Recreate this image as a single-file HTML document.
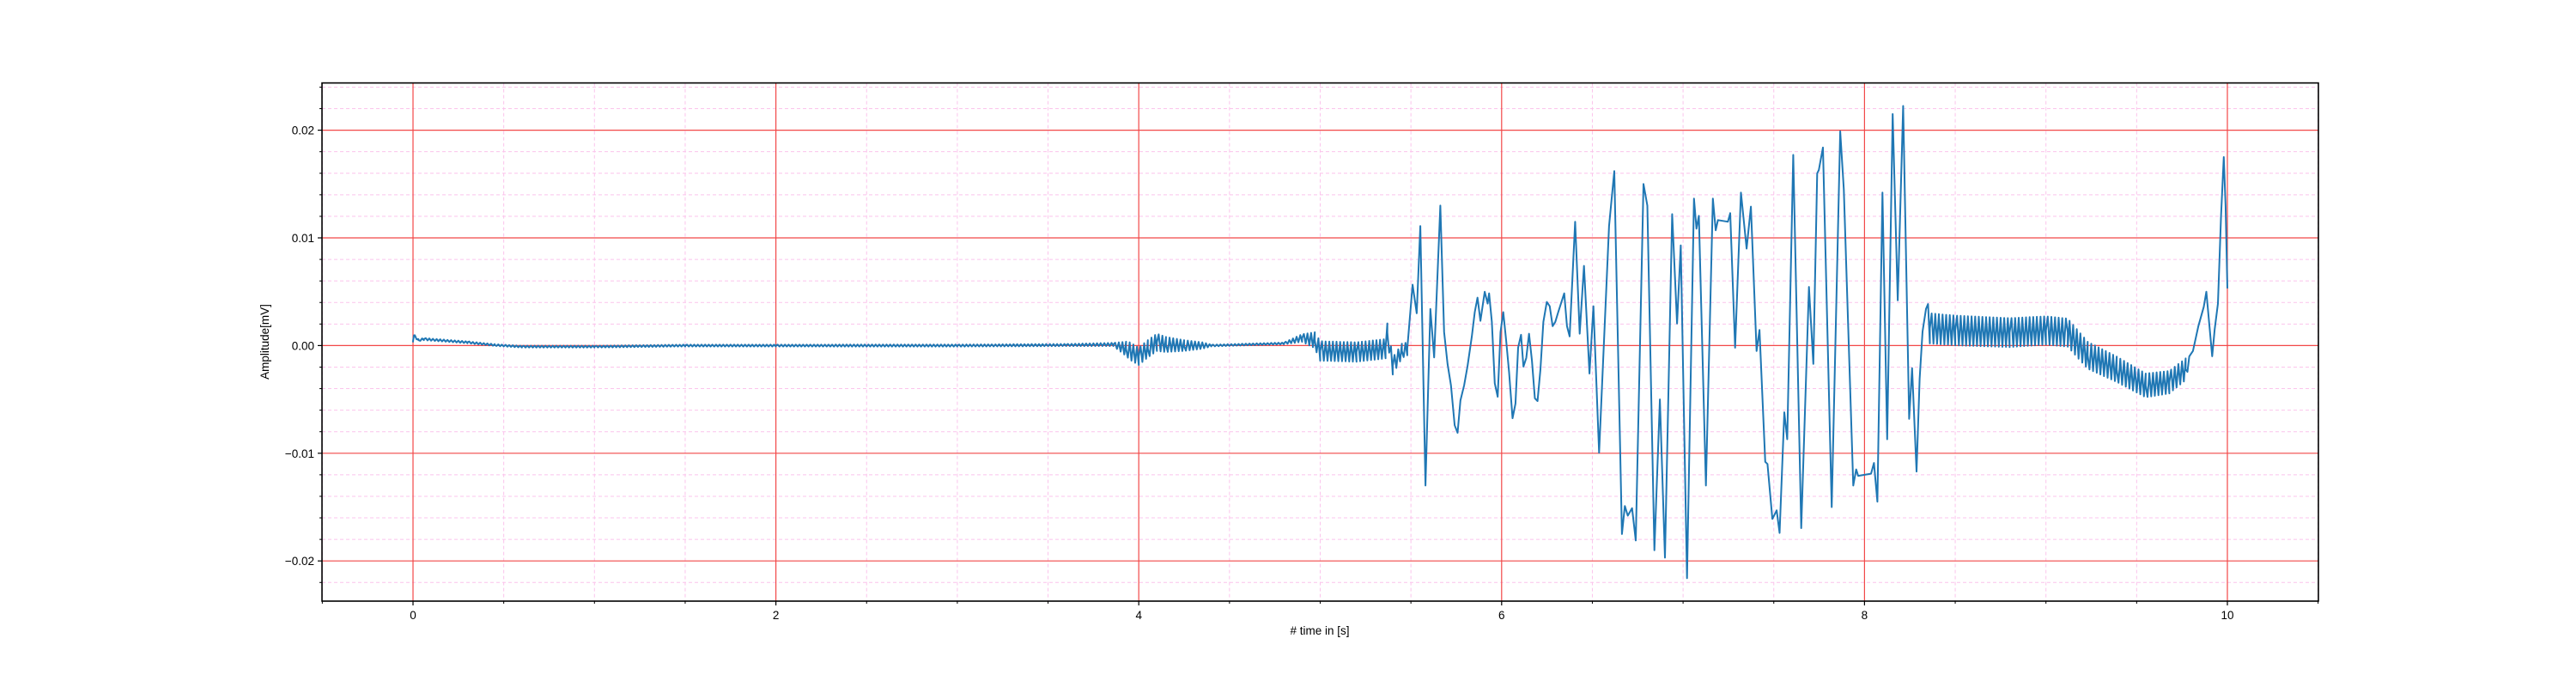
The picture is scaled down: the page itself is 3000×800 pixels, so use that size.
<!DOCTYPE html>
<html><head><meta charset="utf-8"><title>Amplitude chart</title>
<style>
html,body{margin:0;padding:0;background:#fff;}
svg{display:block;font-family:"Liberation Sans","DejaVu Sans",sans-serif;}
</style></head>
<body>
<svg id="chart" width="3000" height="800" viewBox="0 0 3000 800" xmlns="http://www.w3.org/2000/svg">
<rect x="0" y="0" width="3000" height="800" fill="#fff"/>
<g id="grid-minor"></g>
<g id="grid-major"></g>
<g id="series"></g>
<rect x="375" y="96.6" width="2325" height="603.4" fill="none" stroke="#000" stroke-width="1.6"/>
<g id="ticks"></g>
<text x="1537" y="739" font-size="13.5" text-anchor="middle"># time in [s]</text>
<text x="0" y="0" font-size="13.5" text-anchor="middle" transform="translate(313,398) rotate(-90)">Amplitude[mV]</text>
</svg>
<script>
// ---- data (values in mV) ----
const trendTimes = [0,0.005,0.03,0.06,0.3,0.45,0.6,1.0,1.5,2.0,3.0,3.6,3.86,3.93,4.0,4.05,4.1,4.15,4.25,4.4,4.8,4.9,4.97,5.0,5.2,5.36,5.37,5.4,5.45,5.48,
5.509,5.532,5.552,5.580,5.607,5.628,5.662,5.683,5.702,5.721,5.741,5.757,5.773,5.793,5.812,5.836,5.852,5.867,5.883,5.907,5.923,5.931,5.946,5.962,5.978,5.994,
6.009,6.025,6.041,6.060,6.076,6.091,6.107,6.120,6.136,6.151,6.167,6.183,6.198,6.214,6.230,6.249,6.265,6.281,6.296,6.312,6.330,6.345,6.360,6.375,6.405,6.430,6.454,6.484,6.506,6.537,6.592,6.621,
6.663,6.679,6.695,6.719,6.739,6.782,6.803,6.842,6.872,6.900,6.940,6.967,6.987,7.022,7.060,7.074,7.087,7.126,7.164,7.180,7.192,7.247,7.260,
7.287,7.319,7.350,7.374,7.405,7.421,7.453,7.465,7.492,7.516,7.532,7.558,7.574,7.607,7.651,7.694,7.718,7.739,7.748,7.771,7.819,7.866,7.886,7.938,7.954,7.965,
8.036,8.052,8.071,8.099,8.125,8.155,8.183,8.213,8.246,8.262,8.287,8.304,8.320,8.339,8.36,8.5,8.8,9.0,9.12,9.23,9.39,9.55,9.68,9.77,9.81,9.84,9.87,9.884,9.9,9.916,9.93,9.948,9.965,9.98,9.99,10.0];
const trendValues = [0.0004,0.00095,0.0005,0.0006,0.0003,0.00005,-0.0001,-0.0001,0,0,0,0.00005,0.0001,-0.0003,-0.001,-0.0003,0.0003,0.0001,0,0,0.0002,0.0007,0.0005,-0.0005,-0.0006,-0.0003,0.0012,-0.0019,-0.0005,-0.0003,
0.00565,0.003,0.0111,-0.013,0.0034,-0.0011,0.013,0.00125,-0.0017,-0.0037,-0.0074,-0.0081,-0.0051,-0.0037,-0.0019,0.00085,0.0031,0.00445,0.0023,0.005,0.0039,0.00485,0.0022,-0.0035,-0.00475,0.00125,
0.0031,0.00045,-0.0025,-0.00675,-0.0054,-0.0002,0.001,-0.00195,-0.00115,0.0011,-0.0014,-0.0049,-0.00515,-0.0022,0.0022,0.00405,0.00365,0.0018,0.0022,0.0031,0.00405,0.00485,0.0018,0.00085,0.0115,0.0011,0.0074,-0.0026,0.00365,-0.00995,0.0111,0.0162,
-0.0175,-0.0149,-0.0158,-0.0151,-0.0181,0.015,0.013,-0.019,-0.005,-0.0197,0.0122,0.00205,0.0093,-0.0216,0.01365,0.01085,0.01205,-0.013,0.01365,0.0107,0.01165,0.0115,0.0123,
-0.0002,0.0142,0.009,0.0129,-0.0005,0.00145,-0.0108,-0.011,-0.0161,-0.0153,-0.0174,-0.0062,-0.0087,0.0177,-0.01695,0.00545,-0.0017,0.016,0.0163,0.0184,-0.015,0.0199,0.0145,-0.013,-0.0115,-0.0121,
-0.0119,-0.0109,-0.0145,0.0142,-0.0087,0.0215,0.0042,0.02225,-0.0068,-0.0021,-0.0117,-0.0031,0.0013,0.0034,0.0016,0.0014,0.0012,0.0014,0.0012,-0.0009,-0.0022,-0.0037,-0.0034,-0.0022,-0.0005,0.0018,0.0036,0.005,0.002,-0.001,0.0015,0.0039,0.012,0.0175,0.013,0.0053];
// amplitude envelope of the ~50 Hz hum riding on the signal
const humTimes = [0,0.5,3.6,3.86,3.95,4.1,4.2,4.35,4.4,4.8,4.9,5.0,5.35,5.48,5.49,8.34,8.35,9.12,9.55,9.77,9.8,10.0];
const humAmps  = [0.0001,0.00008,0.0001,0.00015,0.0008,0.0008,0.0006,0.0003,0.00008,0.00008,0.00035,0.0009,0.0009,0.0006,0,0,0.0014,0.0013,0.0011,0.001,0,0];
const xTicks = [0,2,4,6,8,10];
const xTickLabels = ["0","2","4","6","8","10"];
const yTicks = [-0.02,-0.01,0,0.01,0.02];
const yTickLabels = ["\u22120.02","\u22120.01","0.00","0.01","0.02"];

// ---- axes ----
const X0=481, XS=211.3, Y0=402.4, YS=12540;
const L=375,R=2700,T=96.6,B=700;
function xs(t){return X0+t*XS;}
function ys(v){return Y0-v*YS;}
function interp(ts,vs,t){
  if(t<=ts[0])return vs[0];
  for(let i=1;i<ts.length;i++){ if(t<=ts[i]){const f=(t-ts[i-1])/(ts[i]-ts[i-1]);return vs[i-1]+f*(vs[i]-vs[i-1]);} }
  return vs[vs.length-1];
}
const NS="http://www.w3.org/2000/svg";
function mk(tag,attrs,parent){const e=document.createElementNS(NS,tag);for(const k in attrs)e.setAttribute(k,attrs[k]);parent.appendChild(e);return e;}

const gMin=document.getElementById('grid-minor'), gMaj=document.getElementById('grid-major'), gT=document.getElementById('ticks');
// minor grid
for(let k=-1;k<=21;k++){const t=k*0.5;if(k%4===0)continue;const x=xs(t);if(x<L||x>R)continue;
  const ln=mk('line',{x1:x,x2:x,y1:T,y2:B,stroke:'#fbc4ec','stroke-width':1,'stroke-dasharray':'4,3'},gMin);
  
  
  const tk=mk('line',{x1:x,x2:x,y1:B,y2:B+3,stroke:'#000','stroke-width':1},gT);
  
  
}
for(let k=-12;k<=12;k++){if(k%5===0)continue;const v=k*0.002;const y=ys(v);if(y<T||y>B)continue;
  const ln=mk('line',{x1:L,x2:R,y1:y,y2:y,stroke:'#fbc4ec','stroke-width':1,'stroke-dasharray':'4,3'},gMin);
  
  
  const tk=mk('line',{x1:L-3,x2:L,y1:y,y2:y,stroke:'#000','stroke-width':1},gT);
  
  
}
// major grid + ticks
xTicks.forEach((t,i)=>{const x=xs(t);
  const ln=mk('line',{x1:x,x2:x,y1:T,y2:B,stroke:'#f24848','stroke-width':1.2},gMaj);
  
  
  const tk=mk('line',{x1:x,x2:x,y1:B,y2:B+5,stroke:'#000','stroke-width':1.2},gT);
  
  
  const tx=mk('text',{x:x,y:B+21,'font-size':13.5,'text-anchor':'middle'},gT);
  tx.textContent=xTickLabels[i];
  
  
});
yTicks.forEach((v,i)=>{const y=ys(v);
  const ln=mk('line',{x1:L,x2:R,y1:y,y2:y,stroke:'#f24848','stroke-width':1.2},gMaj);
  
  
  const tk=mk('line',{x1:L-5,x2:L,y1:y,y2:y,stroke:'#000','stroke-width':1.2},gT);
  
  
  const tx=mk('text',{x:L-9,y:y+5,'font-size':13.5,'text-anchor':'end'},gT);
  tx.textContent=yTickLabels[i];
  
  
});

// ---- series ----
const pts=[];
const grid=[];
for(let k=0;k<=1000;k++)grid.push({t:k*0.01,h:(k%2?1:-1)});
trendTimes.forEach(t=>grid.push({t:t,h:0}));
grid.sort((a,b)=>a.t-b.t);
grid.forEach(p=>{const a=interp(humTimes,humAmps,p.t);
  if(p.h!==0 && a===0)return;
  const v=interp(trendTimes,trendValues,p.t)+p.h*a;
  pts.push(xs(p.t).toFixed(1)+','+ys(v).toFixed(1));
});
const path=mk('polyline',{points:pts.join(' '),fill:'none',stroke:'#1f77b4','stroke-width':2,'stroke-linejoin':'round'},document.getElementById('series'));


</script>
</body></html>
